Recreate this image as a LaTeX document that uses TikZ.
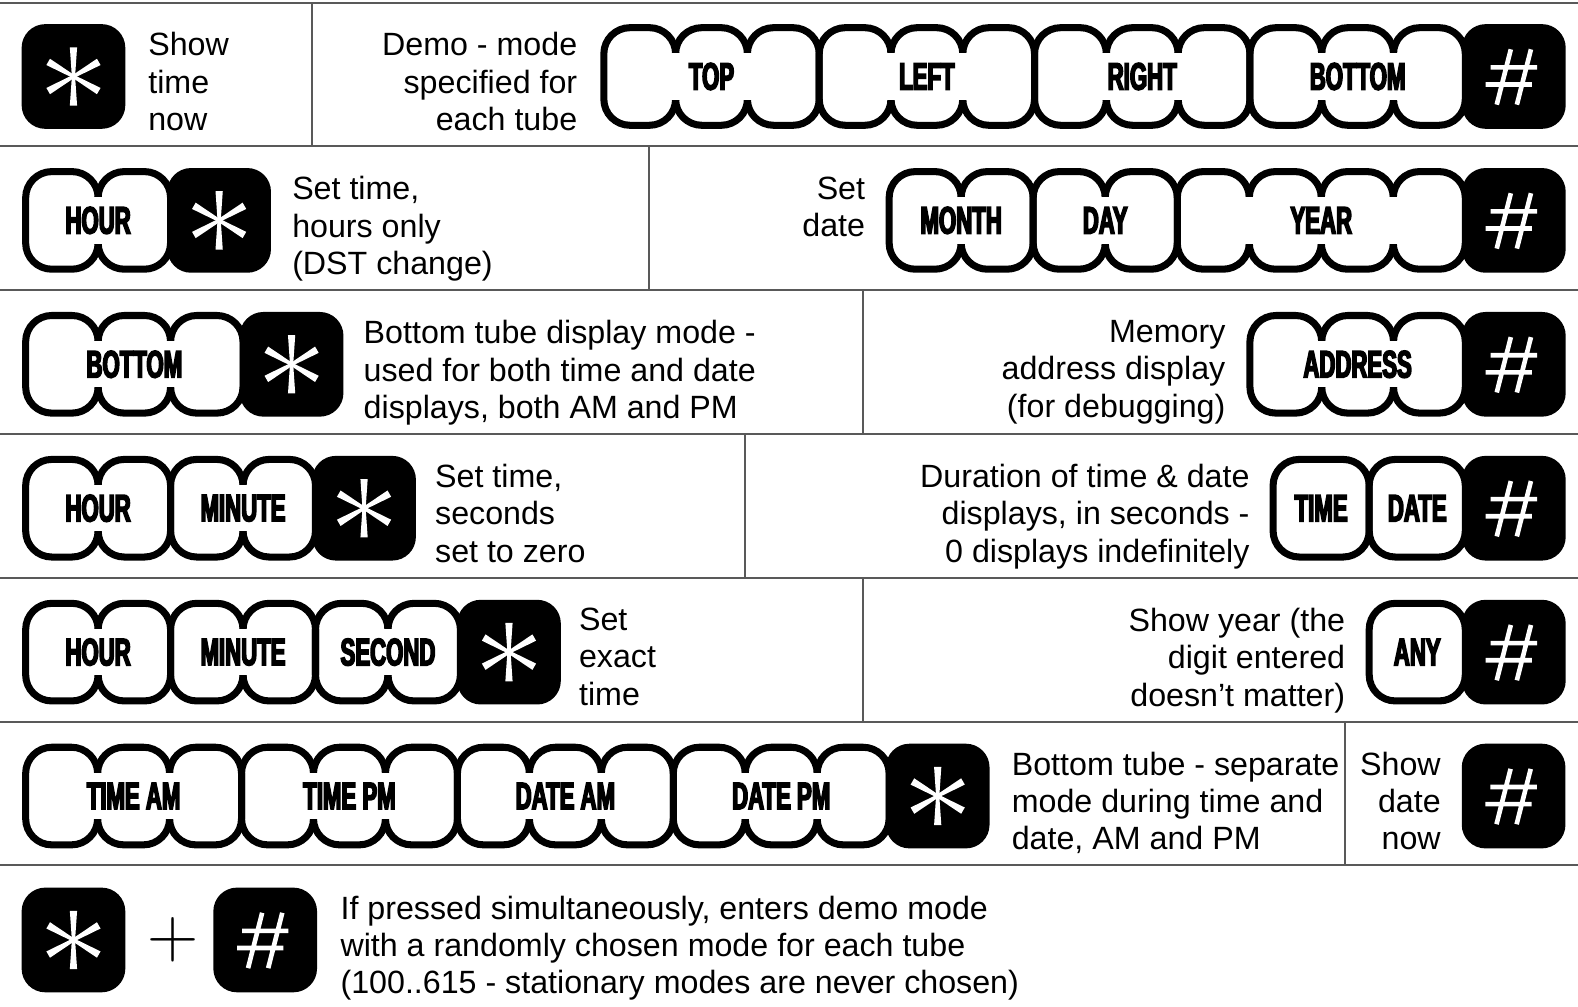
\documentclass[tikz,border=0pt]{standalone}
\usepackage{graphicx}
\usepackage{fontspec}
\setmainfont{Liberation Sans}
\newfontfamily\tubefont[FakeStretch=0.58,FakeBold=4]{Liberation Sans Bold}

\tikzset{
  cell/.style={draw, line width=3.5pt, rounded corners=13pt, minimum width=#1,
    minimum height=48.5pt, inner sep=0pt, outer sep=0pt},
  key/.style={draw, fill=black, line width=3.5pt, rounded corners=10pt,
    minimum width=48pt, minimum height=48.5pt, inner sep=0pt, outer sep=0pt},
  tubelabel/.style={font=\tubefont\fontsize{19}{19}\selectfont, inner sep=0pt},
  note/.style={font=\fontsize{16}{18.5}\selectfont, inner sep=0pt, align=left, anchor=north west},
  noteright/.style={note, align=right, anchor=north east},
  rule/.style={draw=black!65, line width=1pt},
  hashline/.style={white, line width=2.3pt},
}

% one labelled group of tube cells: name, left x, right x, y, cells, label
\newcommand{\tubegroup}[6]{%
  \pgfmathsetmacro\cw{(#3-#2)/#5}
  \pgfmathsetmacro\cwpt{\cw/2}
  \foreach \i in {1,...,#5}
    \node[cell=\cwpt pt] (#1-\i) at ({#2+(\i-0.5)*\cw},#4) {};
  \ifnum#5>1
    \pgfmathtruncatemacro\nn{#5-1}
    \foreach \i in {1,...,\nn}
      \fill[white] ({#2+\i*\cw-6},{#4-23}) rectangle ({#2+\i*\cw+6},{#4+23});
  \fi
  \node[tubelabel] (#1) at ({(#2+#3)/2},#4) {#6};
}

% white symbols on the black keys
\newcommand{\keyast}[1]{%
  \foreach \a in {30,90,...,330}
    \fill[white, shift={(#1.center)}, rotate=\a] (0,-1.6) -- (29,-3.6) -- (29,3.6) -- (0,1.6) -- cycle;
}
\newcommand{\keyhash}[1]{%
  \begin{scope}[shift={(#1.center)}]
    \draw[hashline] (-17,28) -- (-3,-27) (3,28) -- (17,-27)
      (-23,-9) -- (23,-9) (-28,8) -- (18,8);
  \end{scope}
}

\begin{document}
\begin{tikzpicture}[x=0.5pt, y=-0.5pt]
  \useasboundingbox (0,0) rectangle (1568,1000);

  % rules
  \foreach \y in {3,145,288,431,574,717,860}
    \draw[rule] (0,\y) -- (1568,\y);
  \foreach \x/\ya/\yb in {310/3/145, 645/145/288, 858/288/431, 740/431/574, 858/574/717, 1336/717/860}
    \draw[rule] (\x,\ya) -- (\x,\yb);

  % row 1
  \node[key] (r1star) at (73,76) {};
  \keyast{r1star}
  \node[note] (r1text) at (147,32) {Show\\time\\now};
  \node[noteright] (r1demo) at (574,32) {Demo - mode\\specified for\\each tube};
  \tubegroup{r1top}{600}{814}{76}{3}{TOP}
  \tubegroup{r1left}{814}{1028}{76}{3}{LEFT}
  \tubegroup{r1right}{1028}{1242}{76}{3}{RIGHT}
  \tubegroup{r1bottom}{1242}{1456}{76}{3}{BOTTOM}
  \node[key] (r1hash) at (1504.25,76) {};
  \keyhash{r1hash}

  % row 2
  \tubegroup{r2hour}{25.5}{169.5}{219}{2}{HOUR}
  \node[key] (r2star) at (217.75,219) {};
  \keyast{r2star}
  \node[note] (r2text) at (290,175) {Set time,\\hours only\\(DST change)};
  \node[noteright] (r2date) at (860,175) {Set\\date};
  \tubegroup{r2month}{883.5}{1026.6}{219}{2}{MONTH}
  \tubegroup{r2day}{1026.6}{1169.8}{219}{2}{DAY}
  \tubegroup{r2year}{1169.8}{1456}{219}{4}{YEAR}
  \node[key] (r2hash) at (1504.25,219) {};
  \keyhash{r2hash}

  % row 3
  \tubegroup{r3bottom}{25.5}{241.5}{362}{3}{BOTTOM}
  \node[key] (r3star) at (289.75,362) {};
  \keyast{r3star}
  \node[note] (r3text) at (361,318) {Bottom tube display mode -\\used for both time and date\\displays, both AM and PM};
  \node[noteright] (r3memory) at (1218,318) {Memory\\address display\\(for debugging)};
  \tubegroup{r3address}{1242}{1456}{362}{3}{ADDRESS}
  \node[key] (r3hash) at (1504.25,362) {};
  \keyhash{r3hash}

  % row 4
  \tubegroup{r4hour}{25.5}{169.5}{505}{2}{HOUR}
  \tubegroup{r4minute}{169.5}{313.5}{505}{2}{MINUTE}
  \node[key] (r4star) at (361.75,505) {};
  \keyast{r4star}
  \node[note] (r4text) at (432,461) {Set time,\\seconds\\set to zero};
  \node[noteright] (r4duration) at (1242,461) {Duration of time \& date\\displays, in seconds -\\0 displays indefinitely};
  \tubegroup{r4time}{1265}{1360.5}{505}{1}{TIME}
  \tubegroup{r4date}{1360.5}{1456}{505}{1}{DATE}
  \node[key] (r4hash) at (1504.25,505) {};
  \keyhash{r4hash}

  % row 5
  \tubegroup{r5hour}{25.5}{169.5}{648}{2}{HOUR}
  \tubegroup{r5minute}{169.5}{313.5}{648}{2}{MINUTE}
  \tubegroup{r5second}{313.5}{457.5}{648}{2}{SECOND}
  \node[key] (r5star) at (505.75,648) {};
  \keyast{r5star}
  \node[note] (r5text) at (575,604) {Set\\exact\\time};
  \node[noteright] (r5year) at (1337,604) {Show year (the\\digit entered\\doesn’t matter)};
  \tubegroup{r5any}{1360.5}{1456}{648}{1}{ANY}
  \node[key] (r5hash) at (1504.25,648) {};
  \keyhash{r5hash}

  % row 6
  \tubegroup{r6timeam}{25.5}{240}{791}{3}{TIME AM}
  \tubegroup{r6timepm}{240}{454.5}{791}{3}{TIME PM}
  \tubegroup{r6dateam}{454.5}{669}{791}{3}{DATE AM}
  \tubegroup{r6datepm}{669}{883.5}{791}{3}{DATE PM}
  \node[key] (r6star) at (931.75,791) {};
  \keyast{r6star}
  \node[note] (r6text) at (1005,747) {Bottom tube - separate\\mode during time and\\date, AM and PM};
  \node[noteright] (r6show) at (1432,747) {Show\\date\\now};
  \node[key] (r6hash) at (1504,791) {};
  \keyhash{r6hash}

  % row 7
  \node[key] (r7star) at (73,934) {};
  \keyast{r7star}
  \node[inner sep=0pt] (r7plus) at (172,934) {\fontsize{20}{20}\selectfont\scalebox{1.7}{$+$}};
  \node[key] (r7hash) at (263.5,934) {};
  \keyhash{r7hash}
  \node[note] (r7text) at (338,890) {If pressed simultaneously, enters demo mode\\with a randomly chosen mode for each tube\\(100..615 - stationary modes are never chosen)};
\end{tikzpicture}
\end{document}
